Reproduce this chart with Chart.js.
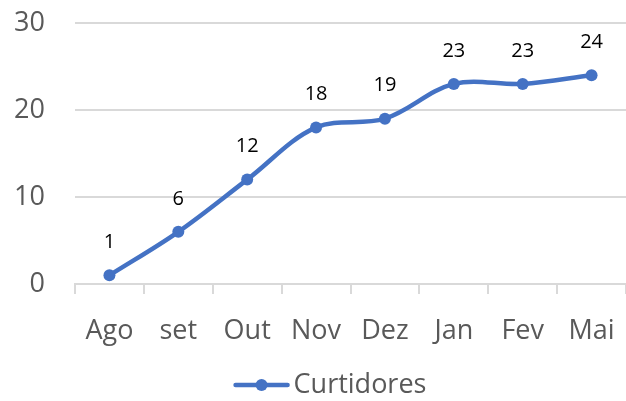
<!DOCTYPE html>
<html>
<head>
<meta charset="utf-8">
<script src="https://cdn.jsdelivr.net/npm/chart.js@4"></script>
<style>
 html,body{margin:0;padding:0;background:#fff;}
 #wrap{width:626px;height:401px;}
</style>
</head>
<body>
<div id="wrap"><canvas id="curtidores"></canvas></div>
<script>
const months = ["Ago","set","Out","Nov","Dez","Jan","Fev","Mai"];
const curtidores = [1,6,12,18,19,23,23,24];
const yTicks = [0,10,20,30];

const blue = "#4472C4";
const gray = "#595959";
const fontName = "'Open Sans', 'Liberation Sans', sans-serif";

// numbers above the points
const valueLabels = {
 id:"valueLabels",
 afterDatasetsDraw(chart){
  const ctx = chart.ctx;
  const meta = chart.getDatasetMeta(0);
  ctx.save();
  ctx.fillStyle = "#000";
  ctx.font = "20px " + fontName;
  ctx.textAlign = "center";
  ctx.textBaseline = "middle";
  meta.data.forEach((pt,i)=>{
   ctx.fillText(curtidores[i], pt.x, pt.y - 33);
  });
  ctx.restore();
 }
};

// legend drawn by hand: line with a dot + name
const lineLegend = {
 id:"lineLegend",
 afterDraw(chart){
  const ctx = chart.ctx;
  const name = chart.data.datasets[0].label;
  ctx.save();
  ctx.font = "27px " + fontName;
  const tw = ctx.measureText(name).width;
  const total = 56 + 4 + tw;
  const x0 = 330 - total/2, y = 385;
  ctx.strokeStyle = blue; ctx.lineWidth = 4.5; ctx.lineCap = "round";
  ctx.beginPath(); ctx.moveTo(x0 + 2, y); ctx.lineTo(x0 + 54, y); ctx.stroke();
  ctx.fillStyle = blue;
  ctx.beginPath(); ctx.arc(x0 + 28, y, 6, 0, Math.PI*2); ctx.fill();
  ctx.fillStyle = gray;
  ctx.textBaseline = "middle";
  ctx.fillText(name, x0 + 60, y);
  ctx.restore();
 }
};

new Chart(document.getElementById("curtidores"),{
 type:"line",
 data:{
  labels:months,
  datasets:[{
   label:"Curtidores",
   data:curtidores,
   borderColor:blue,
   backgroundColor:blue,
   borderWidth:4.5,
   tension:0.35,
   pointRadius:6,
   pointBackgroundColor:blue,
   pointBorderWidth:0
  }]
 },
 options:{
  responsive:true,
  maintainAspectRatio:false,
  animation:false,
  layout:{autoPadding:false,padding:{top:0,right:0,left:13,bottom:0}},
  plugins:{
   legend:{display:false},
   tooltip:{enabled:false}
  },
  scales:{
   x:{
    offset:true,
    grid:{offset:true,drawOnChartArea:false,drawTicks:true,tickLength:10,color:"#d9d9d9",lineWidth:2},
    border:{color:"#d9d9d9",width:2},
    ticks:{color:gray,font:{family:fontName,size:27},padding:21},
    afterFit(axis){ axis.height = 117; axis.paddingLeft = 0; axis.paddingRight = 0; }
   },
   y:{
    min:0,max:30,
    afterBuildTicks(axis){ axis.ticks = yTicks.map(v=>({value:v})); },
    grid:{color:"#d9d9d9",lineWidth:2,drawTicks:false},
    border:{display:false},
    ticks:{color:gray,font:{family:fontName,size:27},padding:30},
    afterFit(axis){ axis.width = 62; axis.paddingTop = 23; axis.paddingBottom = 16; }
   }
  }
 },
 plugins:[valueLabels, lineLegend]
});
</script>
</body>
</html>
